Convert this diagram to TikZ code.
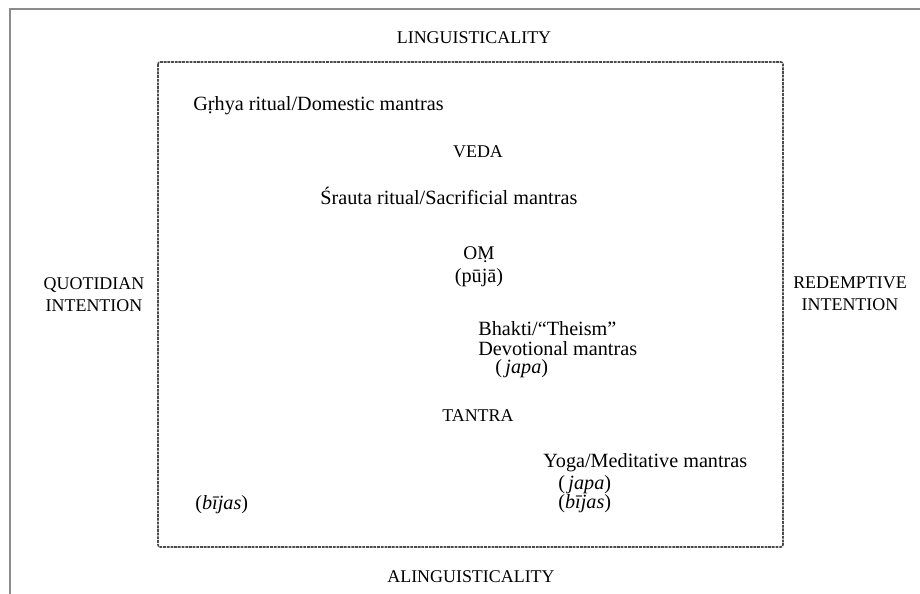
\documentclass[tikz,border=0pt]{standalone}
\usepackage{fontspec}
\setmainfont{Liberation Serif}
\usetikzlibrary{positioning}

\begin{document}
\begin{tikzpicture}[x=0.02cm, y=-0.02cm,
    caps/.style={font=\fontsize{10.2}{12.5}\selectfont, inner sep=0pt, align=center,
      text height=6.7pt, text depth=0pt},
    entry/.style={font=\fontsize{11.5}{13.5}\selectfont, inner sep=0pt, anchor=west,
      text height=8.2pt, text depth=0pt},
    frame/.style={draw=gray!90, line width=1.4pt},
    field/.style={draw=black!70, line width=0.9pt, dash pattern=on 1.6pt off 0.5pt,
      rounded corners=1.2pt}]

  \useasboundingbox (0,0) rectangle (920,594);
  \draw[frame] (920,9) -- (10,9) -- (10,594);
  \draw[field] (158,62) rectangle (783,547);

  \node[caps] (L) at (474,38) {LINGUISTICALITY};
  \node[caps] (AL) at (471,577) {ALINGUISTICALITY};
  \node[caps] (Q) at (94,306) {QUOTIDIAN\\INTENTION};
  \node[caps] (R) at (850,305) {REDEMPTIVE\\INTENTION};

  \node[entry] (grhya) at (193,103) {Gṛhya ritual/Domestic mantras};
  \node[caps] (veda) at (478,152) {VEDA};
  \node[entry] (srauta) at (320,197) {Śrauta ritual/Sacrificial mantras};
  \node[caps, font=\fontsize{11}{13}\selectfont] (om) at (479,254) {OṂ};
  \node[entry, anchor=center] (puja) at (479,275) {(pūjā)};

  \node[entry] (bhakti) at (478,328) {Bhakti/“Theism”};
  \node[entry] (devo) at (478,348) {Devotional mantras};
  \node[entry] (japaA) at (495,366) {(\,\textit{japa})};
  \node[caps, anchor=west] (tantra) at (442,416) {TANTRA};

  \node[entry] (yoga) at (543,460) {Yoga/Meditative mantras};
  \node[entry] (japaB) at (558,482) {(\,\textit{japa})};
  \node[entry] (bijaB) at (558,501) {(\textit{bījas})};
  \node[entry] (bijaA) at (195,502) {(\textit{bījas})};
\end{tikzpicture}
\end{document}
